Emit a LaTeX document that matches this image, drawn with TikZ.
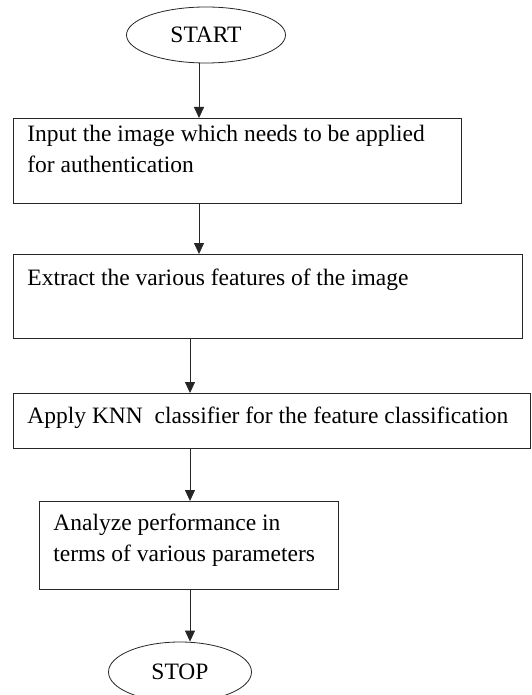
\documentclass[tikz,border=0pt]{standalone}
\usepackage{fontspec}
\setmainfont{Liberation Serif}
\usetikzlibrary{shapes.geometric,arrows.meta}
\tikzset{
	box/.style={draw=black!85, rectangle, anchor=north west, inner sep=0pt},
	oval/.style={draw=black!85, ellipse, inner sep=0pt, font=\fontsize{23.5}{30}\selectfont},
	txt/.style={anchor=west, align=left, inner sep=0pt, font=\fontsize{23.5}{31}\selectfont},
	flow/.style={draw=black!85, -{Triangle[length=11pt,width=10pt]}}
}
\begin{document}
\begin{tikzpicture}[x=1pt, y=-1pt, line width=0.8pt]
				\clip (0,0) rectangle (531,695);
				\coordinate (colA) at (199,0);
				\coordinate (colB) at (190,0);

				% Start
				\node[oval, minimum width=159pt, minimum height=56pt] (start) at (206,35) {START};

				% Input
				\node[box, minimum width=448pt, minimum height=85pt] (input) at (13,118) {};
				\node[txt] (inputtext) at (27,149) {Input the image which needs to be applied\\for authentication};

				% Extract
				\node[box, minimum width=509pt, minimum height=84pt] (extract) at (13,254) {};
				\node[txt] (extracttext) at (27,280) {Extract the various features of the image};

				% KNN
				\node[box, minimum width=517pt, minimum height=55pt] (knn) at (13,393) {};
				\node[txt] (knntext) at (27,418) {Apply KNN\ \ classifier for the feature classification};

				% Analyze
				\node[box, minimum width=299pt, minimum height=88pt] (analyze) at (39,501) {};
				\node[txt] (analyzetext) at (53,540) {Analyze performance in\\terms of various parameters};

				% Stop
				\node[oval, minimum width=143pt, minimum height=60pt] (stop) at (180,672) {STOP};

				% Arrows
				\draw[flow] (start.south -| colA) -- (input.north -| colA);
				\draw[flow] (input.south -| colA) -- (extract.north -| colA);
				\draw[flow] (extract.south -| colB) -- (knn.north -| colB);
				\draw[flow] (knn.south -| colB) -- (analyze.north -| colB);
				\draw[flow] (analyze.south -| colB) -- (stop.north -| colB);
\end{tikzpicture}
\end{document}
